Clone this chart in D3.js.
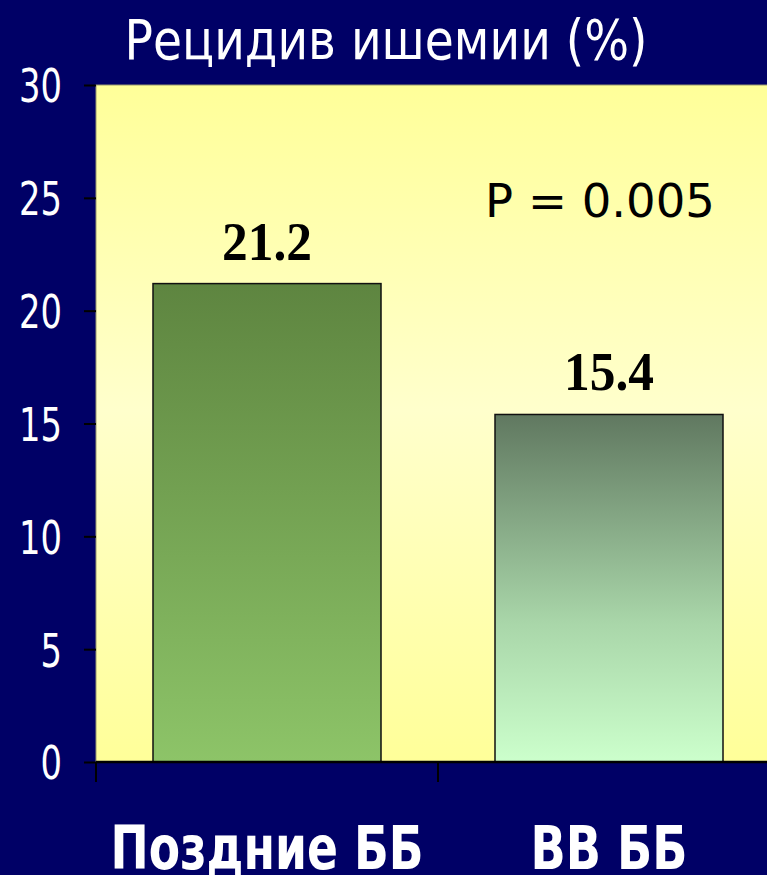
<!DOCTYPE html>
<html><head><meta charset="utf-8">
<script src="https://cdn.jsdelivr.net/npm/d3@7"></script>
<style>html,body{margin:0;padding:0;background:#000066;overflow:hidden}</style>
</head><body>
<script>
const categories = ["Поздние ББ", "ВВ ББ"];
const values = [21.2, 15.4];
const valueLabels = ["21.2", "15.4"];
const yTicks = [0, 5, 10, 15, 20, 25, 30];
const title = "Рецидив ишемии (%)";
const pText = "P = 0.005";

(function () {
const W = 767, H = 875;
const svg = d3.select("body").append("svg").attr("width", W).attr("height", H);
svg.append("rect").attr("width", W).attr("height", H).attr("fill", "#000066");

const pLeft = 96, pRight = 780, pTop = 85, pBottom = 762;
const x = d3.scaleBand().domain(categories).range([pLeft, pRight]).paddingInner(1/3).paddingOuter(1/6);
const xb = d3.scaleBand().domain(categories).range([pLeft, pRight]);
const y = d3.scaleLinear().domain([0, 30]).range([pBottom, pTop]);

const defs = svg.append("defs");
const bg = defs.append("linearGradient").attr("id", "bg").attr("x1", 0).attr("y1", 0).attr("x2", 0).attr("y2", 1);
bg.append("stop").attr("offset", "0%").attr("stop-color", "#FFFF99");
bg.append("stop").attr("offset", "48%").attr("stop-color", "#FFFFCC");
bg.append("stop").attr("offset", "100%").attr("stop-color", "#FFFF99");
const g1 = defs.append("linearGradient").attr("id", "g1").attr("x1", 0).attr("y1", 0).attr("x2", 0).attr("y2", 1);
g1.append("stop").attr("offset", "0%").attr("stop-color", "#5E8540");
g1.append("stop").attr("offset", "100%").attr("stop-color", "#8DC468");
const g2 = defs.append("linearGradient").attr("id", "g2").attr("x1", 0).attr("y1", 0).attr("x2", 0).attr("y2", 1);
g2.append("stop").attr("offset", "0%").attr("stop-color", "#607860");
g2.append("stop").attr("offset", "60%").attr("stop-color", "#A9D6A9");
g2.append("stop").attr("offset", "100%").attr("stop-color", "#CCFFCC");

// plot area
svg.append("rect").attr("x", pLeft).attr("y", pTop).attr("width", pRight - pLeft).attr("height", pBottom - pTop)
  .attr("fill", "url(#bg)").attr("stroke", "#9a9a70").attr("stroke-width", 1);

// bars
svg.selectAll("rect.bar").data(categories).join("rect").attr("class", "bar")
  .attr("x", d => x(d)).attr("width", x.bandwidth())
  .attr("y", (d, i) => y(values[i])).attr("height", (d, i) => y(0) - y(values[i]))
  .attr("fill", (d, i) => i === 0 ? "url(#g1)" : "url(#g2)")
  .attr("stroke", "#111").attr("stroke-width", 1.5);

// value labels
svg.selectAll("text.val").data(categories).join("text").attr("class", "val")
  .attr("x", d => x(d) + x.bandwidth() / 2).attr("y", (d, i) => y(values[i]) - 24)
  .attr("text-anchor", "middle").attr("font-family", "Liberation Serif, serif").attr("font-weight", "bold")
  .attr("font-size", 54).attr("fill", "#000")
  .attr("textLength", 90).attr("lengthAdjust", "spacingAndGlyphs")
  .text((d, i) => valueLabels[i]);

// y axis
const yAxis = svg.append("g").attr("transform", `translate(${pLeft},0)`)
  .call(d3.axisLeft(y).tickValues(yTicks).tickSize(12).tickPadding(0).tickFormat(d3.format("d")));
yAxis.select(".domain").remove();
yAxis.selectAll(".tick line").attr("stroke", "#000").attr("stroke-width", 2);
yAxis.selectAll(".tick text").attr("x", -34).attr("dy", "0.36em").attr("fill", "#fff")
  .attr("font-family", "DejaVu Sans, sans-serif").attr("font-size", 47)
  .attr("textLength", d => String(d).length * 21.5).attr("lengthAdjust", "spacingAndGlyphs");

// x axis
const xAxis = svg.append("g").attr("transform", `translate(0,${pBottom})`)
  .call(d3.axisBottom(xb).tickSize(0).tickFormat(""));
xAxis.select(".domain").attr("stroke", "#000").attr("stroke-width", 2.5).attr("d", `M${pLeft},0H${W}`);
xAxis.selectAll(".tick").remove();
svg.append("g").selectAll("line").data(categories).join("line")
  .attr("x1", d => xb(d)).attr("x2", d => xb(d)).attr("y1", pBottom).attr("y2", pBottom + 20)
  .attr("stroke", "#000").attr("stroke-width", 2);

// category labels
const labelW = [313, 157];
svg.selectAll("text.cat").data(categories).join("text").attr("class", "cat")
  .attr("x", d => xb(d) + xb.bandwidth() / 2).attr("y", 869)
  .attr("text-anchor", "middle").attr("fill", "#fff").attr("font-family", "DejaVu Sans, sans-serif")
  .attr("font-weight", "bold").attr("font-size", 60)
  .attr("textLength", (d, i) => labelW[i]).attr("lengthAdjust", "spacingAndGlyphs").text(d => d);

// title
svg.append("text").attr("x", 386).attr("y", 59).attr("text-anchor", "middle").attr("fill", "#fff")
  .attr("font-family", "DejaVu Sans, sans-serif").attr("font-size", 56)
  .attr("textLength", 523).attr("lengthAdjust", "spacingAndGlyphs").text(title);

// p value
svg.append("text").attr("x", 485).attr("y", 217).attr("fill", "#000")
  .attr("font-family", "DejaVu Sans, sans-serif").attr("font-size", 47)
  .attr("textLength", 230).attr("lengthAdjust", "spacingAndGlyphs").text(pText);
})();
</script>
</body></html>
